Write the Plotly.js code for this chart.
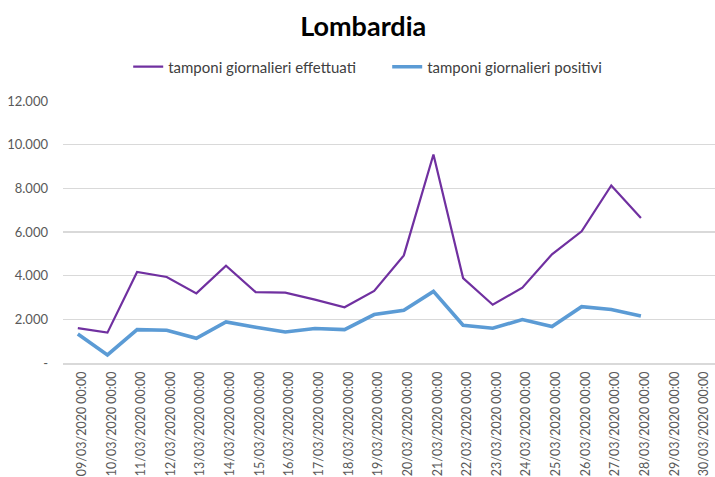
<!DOCTYPE html>
<html>
<head>
<meta charset="utf-8">
<script src="https://cdn.plot.ly/plotly-3.0.1.min.js"></script>
<style>html,body{margin:0;padding:0;background:#fff;}#chart{width:715px;height:477px;}</style>
</head>
<body>
<div id="chart"></div>
<script>
const categories = ["09/03/2020 00:00","10/03/2020 00:00","11/03/2020 00:00","12/03/2020 00:00","13/03/2020 00:00","14/03/2020 00:00","15/03/2020 00:00","16/03/2020 00:00","17/03/2020 00:00","18/03/2020 00:00","19/03/2020 00:00","20/03/2020 00:00","21/03/2020 00:00","22/03/2020 00:00","23/03/2020 00:00","24/03/2020 00:00","25/03/2020 00:00","26/03/2020 00:00","27/03/2020 00:00","28/03/2020 00:00","29/03/2020 00:00","30/03/2020 00:00"];
const tamponiEffettuati = [1600,1390,4170,3940,3190,4460,3250,3220,2900,2550,3300,4930,9550,3890,2670,3450,4980,6030,8130,6640,null,null];
const tamponiPositivi = [1330,370,1530,1500,1130,1880,1640,1420,1580,1530,2220,2410,3280,1730,1590,1990,1670,2580,2450,2150,null,null];
const yTickVals = [0,2000,4000,6000,8000,10000,12000];
const yTickText = ["-","2.000","4.000","6.000","8.000","10.000","12.000"];

const font = "Lato, 'Open Sans', sans-serif";
const data = [
  {x: categories, y: tamponiEffettuati, type: 'scatter', mode: 'lines', name: 'tamponi giornalieri effettuati',
   line: {color: '#7030a0', width: 2.2}},
  {x: categories, y: tamponiPositivi, type: 'scatter', mode: 'lines', name: 'tamponi giornalieri positivi',
   line: {color: '#5b9bd5', width: 3.6}}
];
const layout = {
  width: 715, height: 477,
  margin: {l: 63, r: 0, t: 101, b: 114},
  paper_bgcolor: '#fff', plot_bgcolor: '#fff',
  title: {text: '<b>Lombardia</b>', font: {family: font, size: 27, color: '#000'}, x: 0.508, xanchor: 'center', y: 0.945, yanchor: 'middle'},
  showlegend: true,
  legend: {orientation: 'h', x: 0.1, xanchor: 'left', y: 1.13, yanchor: 'middle', font: {family: font, size: 15, color: '#404040'}, entrywidth: 214, traceorder: 'normal'},
  xaxis: {type: 'category', range: [-0.5, 21.5], tickangle: -90, tickfont: {family: font, size: 12.5, color: '#595959'},
          ticklabelshift: 4, ticklabelstandoff: 2,
          showgrid: false, showline: true, linecolor: '#d9d9d9', linewidth: 1.5, ticks: '', zeroline: false, fixedrange: true},
  yaxis: {range: [0, 12000], tickmode: 'array', tickvals: yTickVals, ticktext: yTickText,
          tickfont: {family: font, size: 13, color: '#595959'}, gridcolor: '#d9d9d9', gridwidth: 1.5,
          showline: false, zeroline: false, ticks: '', ticklabelstandoff: 14, fixedrange: true}
};
Plotly.newPlot('chart', data, layout, {displayModeBar: false, staticPlot: true});
</script>
</body>
</html>
